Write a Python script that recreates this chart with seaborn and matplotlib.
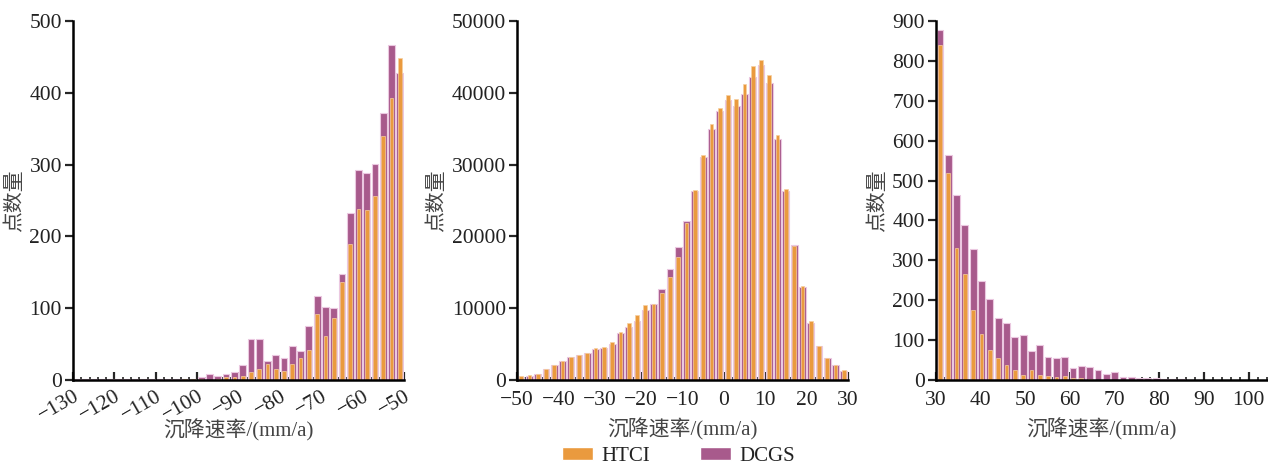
import matplotlib
matplotlib.use('Agg')

import matplotlib.pyplot as plt
import seaborn as sns
import pandas as pd
from matplotlib.patches import Patch
from matplotlib.ticker import MultipleLocator

# panel 1: -130 .. -50, 2 mm/a bins
p1_start, p1_step = -130, 2
p1_dcgs = [1, 1, 1, 1, 1, 1, 1, 1, 1, 1, 2, 1, 1, 2, 2, 4, 8, 6, 9, 11,
           21, 57, 57, 26, 35, 30, 48, 40, 75, 117, 101, 100, 147, 233, 292, 288, 301, 372, 467, 427]
p1_htci = [0, 0, 0, 0, 0, 0, 0, 0, 0, 0, 0, 0, 0, 2, 1, 1, 0.5, 1, 4, 4,
           5, 11, 16, 22, 15, 12.5, 22, 30, 42, 92, 61, 86, 137, 190, 238, 237, 256, 340, 393, 449]

# panel 2: -50 .. 30
p2_start, p2_step = -50, 2
p2_dcgs = [460, 600, 835, 1500, 2040, 2600, 3250, 3430, 3710, 4360,
           4500, 5010, 6490, 7330, 8260, 9740, 10530, 12620, 15400, 18460,
           22170, 26300, 31000, 35000, 37400, 38960, 38130, 39800, 42200, 43830,
           41370, 33500, 26300, 18800, 13000, 7900, 4780, 3100, 2090, 1300]
p2_htci = [560, 700, 900, 1600, 2130, 2690, 3250, 3430, 3800, 4500,
           4640, 5330, 6680, 7890, 9000, 10390, 10600, 12060, 14280, 17160,
           21800, 26440, 31300, 35700, 37940, 39660, 39200, 41190, 43690, 44620,
           42440, 34180, 26600, 18650, 13130, 8210, 4780, 3100, 2090, 1390]

# panel 3: 30 .. ~104
p3_start, p3_step = 30, 1.86
p3_dcgs = [878, 565, 465, 388, 329, 248, 203, 156, 144, 109, 114, 73, 89, 58, 56, 58,
           30, 35, 33, 24, 15, 21, 8, 7, 5, 4, 5, 2, 3, 3, 1, 1, 1]
p3_htci = [841, 520, 332, 267, 175, 115, 75, 56, 37, 25, 13, 25, 13, 10, 8, 10,
           4, 5, 2, 1, 0, 0, 0, 0, 0, 0, 0, 0, 0, 0, 0, 0, 0]

orange = '#EA9A3E'
purple = '#A85A8C'
serif = ['Liberation Serif', 'Noto Sans CJK SC']

sns.set_style('ticks')
plt.rcParams['font.family'] = serif
plt.rcParams['axes.unicode_minus'] = True

fig = plt.figure(figsize=(12.68, 4.66), dpi=100)

def draw(ax, start, step, dcgs, htci):
    n = len(dcgs)
    edges = [start + step * i for i in range(n + 1)]
    df = pd.DataFrame({'rate': [(edges[i] + edges[i + 1]) / 2 for i in range(n)],
                       'DCGS': dcgs, 'HTCI': htci})
    sns.histplot(data=df, x='rate', weights='DCGS', bins=edges, shrink=0.82, ax=ax,
                 color=purple, alpha=1, edgecolor='#EBC8E0', linewidth=0.8)
    sns.histplot(data=df, x='rate', weights='HTCI', bins=edges, shrink=0.45, ax=ax,
                 color=orange, alpha=1, edgecolor='#F6CFA0', linewidth=0.5)
    sns.despine(ax=ax)
    for s in ['left', 'bottom']:
        ax.spines[s].set_linewidth(1.8)
        ax.spines[s].set_color('black')
    ax.tick_params(axis='y', direction='out', length=6, width=1.6, labelsize=15.5,
                   pad=2, labelcolor='#222222')
    ax.tick_params(axis='x', which='major', direction='in', length=6, width=1.6,
                   labelsize=15.5, pad=8, labelcolor='#222222')
    ax.tick_params(axis='x', which='minor', direction='in', length=2.5, width=1.2)
    ax.set_xlabel('沉降速率/(mm/a)', fontsize=15, color='#444444', labelpad=6)
    ax.set_ylabel('点数量', fontsize=15, color='#444444', labelpad=3)

ax1 = fig.add_axes([0.0576, 0.1845, 0.261, 0.7705])
draw(ax1, p1_start, p1_step, p1_dcgs, p1_htci)
ax1.set_xlim(-130, -50)
ax1.set_ylim(0, 500)
ax1.xaxis.set_major_locator(MultipleLocator(10))
ax1.xaxis.set_minor_locator(MultipleLocator(2))
ax1.yaxis.set_major_locator(MultipleLocator(100))
ax1.tick_params(axis='x', which='major', pad=5)
plt.setp(ax1.get_xticklabels(), rotation=30, ha='right', rotation_mode='anchor')
ax1.xaxis.labelpad = -5

ax2 = fig.add_axes([0.4077, 0.1845, 0.261, 0.7705])
draw(ax2, p2_start, p2_step, p2_dcgs, p2_htci)
ax2.set_xlim(-50, 30)
ax2.set_ylim(0, 50000)
ax2.xaxis.set_major_locator(MultipleLocator(10))
ax2.xaxis.set_minor_locator(MultipleLocator(2))
ax2.yaxis.set_major_locator(MultipleLocator(10000))

ax3 = fig.add_axes([0.738, 0.1845, 0.261, 0.7705])
draw(ax3, p3_start, p3_step, p3_dcgs, p3_htci)
ax3.set_xlim(30, 104)
ax3.set_ylim(0, 900)
ax3.xaxis.set_major_locator(MultipleLocator(10))
ax3.xaxis.set_minor_locator(MultipleLocator(2))
ax3.yaxis.set_major_locator(MultipleLocator(100))

handles = [Patch(facecolor=orange, label='HTCI'), Patch(facecolor=purple, label='DCGS')]
fig.legend(handles=handles, loc='center', bbox_to_anchor=(0.535, 0.02), ncol=2,
           frameon=False, fontsize=15, handlelength=1.5, handleheight=0.6,
           columnspacing=2.4, handletextpad=0.4, labelcolor='#222222')

plt.savefig('out.png', dpi=100)
